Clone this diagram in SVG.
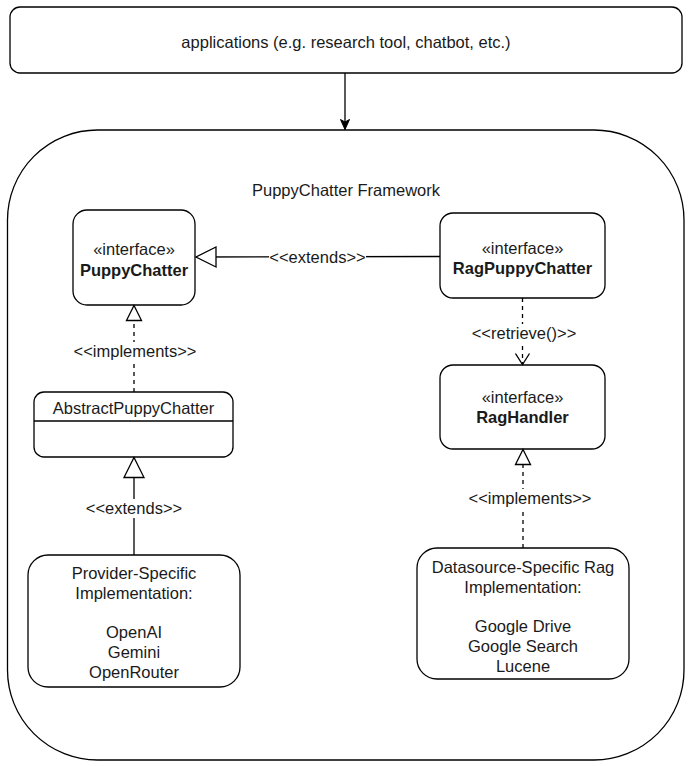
<svg xmlns="http://www.w3.org/2000/svg" width="691" height="766" viewBox="0 0 691 766">
  <style>
    .box { fill: #ffffff; stroke: #000000; stroke-width: 1.3; }
    .t { font-family: "Liberation Sans", Arial, sans-serif; font-size: 16.5px; fill: #1a1a1a; text-anchor: middle; }
    .b { font-weight: bold; }
    .ln { fill: none; stroke: #000000; stroke-width: 1.3; }
    .dash { stroke-dasharray: 4 4; }
    .lblbg { fill: #ffffff; stroke: none; }
  </style>
  <defs>
    <marker id="filled" markerUnits="userSpaceOnUse" markerWidth="12" markerHeight="12" viewBox="0 0 12 12" refX="11" refY="6" orient="auto">
      <path d="M1,1.5 L11,6 L1,10.5 L3.5,6 Z" fill="#000000" stroke="#000000" stroke-width="1"/>
    </marker>
    <marker id="bigTri" markerUnits="userSpaceOnUse" markerWidth="24" markerHeight="24" viewBox="0 0 24 24" refX="21" refY="12" orient="auto">
      <path d="M1,2 L21,12 L1,22 Z" fill="#ffffff" stroke="#000000" stroke-width="1.3"/>
    </marker>
    <marker id="smallTri" markerUnits="userSpaceOnUse" markerWidth="20" markerHeight="20" viewBox="0 0 20 20" refX="17" refY="10" orient="auto">
      <path d="M2,2.5 L17,10 L2,17.5 Z" fill="#ffffff" stroke="#000000" stroke-width="1.3"/>
    </marker>
    <marker id="openV" markerUnits="userSpaceOnUse" markerWidth="16" markerHeight="16" viewBox="0 0 16 16" refX="14" refY="8" orient="auto">
      <path d="M3,1 L14,8 L3,15" fill="none" stroke="#000000" stroke-width="1.3"/>
    </marker>
  </defs>

  <g id="applications">
    <rect class="box" x="10" y="7" width="672" height="66" rx="10" ry="10"/>
    <text class="t" x="346" y="48">applications (e.g. research tool, chatbot, etc.)</text>
  </g>

  <g id="framework">
    <rect class="box" x="7.5" y="130" width="676.5" height="630" rx="90" ry="90"/>
    <text class="t" x="346" y="196">PuppyChatter Framework</text>
  </g>

  <g id="puppychatter">
    <rect class="box" x="73" y="210" width="122" height="95" rx="14" ry="14"/>
    <text class="t" x="134" y="255">«interface»</text>
    <text class="t b" x="134" y="276">PuppyChatter</text>
  </g>

  <g id="ragpuppychatter">
    <rect class="box" x="440" y="213" width="165" height="85" rx="13" ry="13"/>
    <text class="t" x="522.5" y="254">«interface»</text>
    <text class="t b" x="522.5" y="274">RagPuppyChatter</text>
  </g>

  <g id="raghandler">
    <rect class="box" x="440" y="365" width="165" height="84" rx="13" ry="13"/>
    <text class="t" x="522.5" y="403">«interface»</text>
    <text class="t b" x="522.5" y="423">RagHandler</text>
  </g>

  <g id="abstractpuppychatter">
    <rect class="box" x="34" y="392" width="199" height="65" rx="10" ry="10"/>
    <line class="ln" x1="34" y1="421" x2="233" y2="421"/>
    <text class="t" x="133.5" y="414">AbstractPuppyChatter</text>
  </g>

  <g id="provider">
    <rect class="box" x="28" y="555" width="212" height="132" rx="20" ry="20"/>
    <text class="t" x="134" y="579">Provider-Specific</text>
    <text class="t" x="134" y="599">Implementation:</text>
    <text class="t" x="134" y="638">OpenAI</text>
    <text class="t" x="134" y="658">Gemini</text>
    <text class="t" x="134" y="678">OpenRouter</text>
  </g>

  <g id="datasource">
    <rect class="box" x="417" y="548" width="212" height="131" rx="20" ry="20"/>
    <text class="t" x="523" y="573">Datasource-Specific Rag</text>
    <text class="t" x="523" y="593">Implementation:</text>
    <text class="t" x="523" y="632">Google Drive</text>
    <text class="t" x="523" y="652">Google Search</text>
    <text class="t" x="523" y="672">Lucene</text>
  </g>

  <g id="connectors">
    <!-- applications -> framework -->
    <line class="ln" x1="345" y1="73" x2="345" y2="129.5" marker-end="url(#filled)"/>

    <!-- RagPuppyChatter extends PuppyChatter -->
    <line class="ln" x1="440" y1="256.5" x2="196" y2="257" marker-end="url(#bigTri)"/>
    <rect class="lblbg" x="269" y="248" width="97" height="19"/>
    <text class="t" x="317.5" y="263">&lt;&lt;extends&gt;&gt;</text>

    <!-- RagPuppyChatter retrieve RagHandler -->
    <line class="ln dash" x1="522.5" y1="298" x2="522.5" y2="364.5" marker-end="url(#openV)"/>
    <rect class="lblbg" x="471" y="324" width="106" height="19"/>
    <text class="t" x="524" y="339">&lt;&lt;retrieve()&gt;&gt;</text>

    <!-- AbstractPuppyChatter implements PuppyChatter -->
    <line class="ln dash" x1="134" y1="392" x2="134" y2="305.5" marker-end="url(#smallTri)"/>
    <rect class="lblbg" x="73" y="342" width="124" height="19"/>
    <text class="t" x="135" y="357">&lt;&lt;implements&gt;&gt;</text>

    <!-- Provider extends AbstractPuppyChatter -->
    <line class="ln" x1="134" y1="555" x2="134" y2="457.5" marker-end="url(#bigTri)"/>
    <rect class="lblbg" x="86" y="499" width="97" height="19"/>
    <text class="t" x="134" y="514">&lt;&lt;extends&gt;&gt;</text>

    <!-- Datasource implements RagHandler -->
    <line class="ln dash" x1="523" y1="548" x2="523" y2="449.5" marker-end="url(#smallTri)"/>
    <rect class="lblbg" x="468" y="489" width="124" height="19"/>
    <text class="t" x="530" y="504">&lt;&lt;implements&gt;&gt;</text>
  </g>
</svg>
